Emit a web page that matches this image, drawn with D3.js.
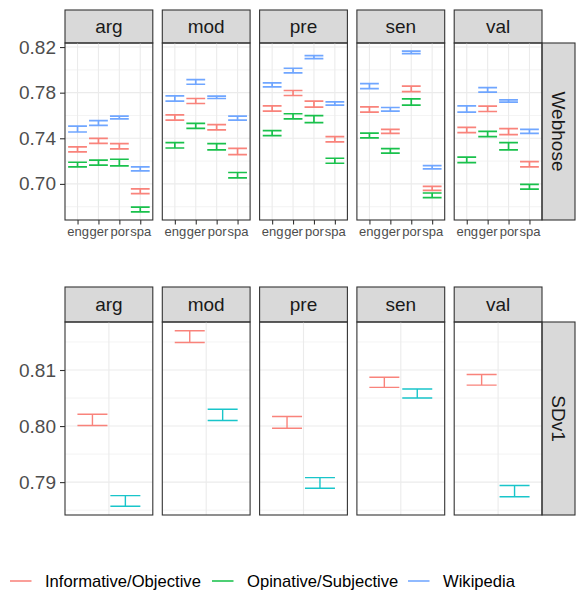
<!DOCTYPE html>
<html>
<head>
<meta charset="utf-8">
<script src="https://cdn.jsdelivr.net/npm/d3@7"></script>
<style>
  body { margin: 0; background: #ffffff; }
  text { font-family: "Liberation Sans", Arial, sans-serif; }
</style>
</head>
<body>
<script>
// facets and categories
var facets = ["arg", "mod", "pre", "sen", "val"];
var langs = ["eng", "ger", "por", "spa"];
var seriesNames = ["Informative/Objective", "Opinative/Subjective", "Wikipedia"];
var seriesColors = ["#F8766D", "#00BA38", "#619CFF"];

// Webhose: [low, high] per language, one row per facet
var infoObjective = [
  [[0.7280, 0.7324], [0.7356, 0.7400], [0.7307, 0.7353], [0.6914, 0.6957]],
  [[0.7560, 0.7606], [0.7705, 0.7749], [0.7473, 0.7519], [0.7257, 0.7312]],
  [[0.7638, 0.7685], [0.7775, 0.7819], [0.7673, 0.7726], [0.7368, 0.7414]],
  [[0.7630, 0.7676], [0.7443, 0.7478], [0.7810, 0.7857], [0.6943, 0.6978]],
  [[0.7449, 0.7496], [0.7635, 0.7682], [0.7432, 0.7484], [0.7149, 0.7196]]
];
var opinSubjective = [
  [[0.7149, 0.7190], [0.7164, 0.7208], [0.7158, 0.7216], [0.6754, 0.6797]],
  [[0.7315, 0.7362], [0.7487, 0.7531], [0.7298, 0.7353], [0.7053, 0.7100]],
  [[0.7423, 0.7467], [0.7571, 0.7615], [0.7537, 0.7598], [0.7181, 0.7225]],
  [[0.7403, 0.7446], [0.7269, 0.7309], [0.7691, 0.7746], [0.6879, 0.6920]],
  [[0.7187, 0.7234], [0.7414, 0.7461], [0.7298, 0.7362], [0.6955, 0.6995]]
];
var wikipedia = [
  [[0.7455, 0.7507], [0.7513, 0.7554], [0.7571, 0.7595], [0.7115, 0.7149]],
  [[0.7726, 0.7772], [0.7874, 0.7915], [0.7749, 0.7769], [0.7560, 0.7595]],
  [[0.7851, 0.7886], [0.7973, 0.8014], [0.8098, 0.8124], [0.7691, 0.7720]],
  [[0.7836, 0.7880], [0.7638, 0.7670], [0.8142, 0.8165], [0.7132, 0.7161]],
  [[0.7630, 0.7685], [0.7804, 0.7845], [0.7717, 0.7737], [0.7443, 0.7478]]
];

// SDv1: two groups, one [low, high] per facet
var sdGroups = ["first", "second"];
var sdColors = ["#F8766D", "#00BFC4"];
var sdv1First = [[0.8001, 0.8021], [0.8149, 0.8170], [0.7996, 0.8017], [0.8069, 0.8087], [0.8073, 0.8092]];
var sdv1Second = [[0.7857, 0.7876], [0.8010, 0.8030], [0.7889, 0.7908], [0.8050, 0.8066], [0.7874, 0.7894]];

var webhoseTicks = [0.70, 0.74, 0.78, 0.82];
var webhoseMinor = [0.68, 0.72, 0.76, 0.80];
var sdv1Ticks = [0.79, 0.80, 0.81];
var sdv1Minor = [0.785, 0.795, 0.805, 0.815];

var width = 579, height = 596;
var svg = d3.select("body").append("svg")
    .attr("width", width)
    .attr("height", height);

var panelX = d3.scaleBand().domain(facets).range([65, 542]).paddingInner(0.0976);
var bw = panelX.bandwidth();

function expandDomain(values) {
  var lo = d3.min(values), hi = d3.max(values), r = hi - lo;
  return [lo - 0.05 * r, hi + 0.05 * r];
}

function drawStripsAndGrid(g, y, top, bottom, ticks, minor, stripTop, rowLabel) {
  facets.forEach(function (f) {
    var x0 = panelX(f);
    var p = g.append("g").attr("transform", "translate(" + x0 + ",0)");
    p.append("rect").attr("x", 0).attr("y", top).attr("width", bw).attr("height", bottom - top)
        .attr("fill", "#ffffff");
    p.selectAll("line.minor").data(minor.filter(function (v) { return y(v) > top && y(v) < bottom; }))
        .enter().append("line")
        .attr("x1", 0).attr("x2", bw)
        .attr("y1", y).attr("y2", y)
        .attr("stroke", "#EBEBEB").attr("stroke-width", 0.6);
    p.selectAll("line.major").data(ticks)
        .enter().append("line")
        .attr("x1", 0).attr("x2", bw)
        .attr("y1", y).attr("y2", y)
        .attr("stroke", "#EBEBEB").attr("stroke-width", 1.1);
    // strip
    p.append("rect").attr("x", 0).attr("y", stripTop).attr("width", bw).attr("height", top - stripTop)
        .attr("fill", "#D9D9D9").attr("stroke", "#333333").attr("stroke-width", 1.1);
    p.append("text").text(f)
        .attr("x", bw / 2).attr("y", (stripTop + top) / 2)
        .attr("text-anchor", "middle").attr("dominant-baseline", "central")
        .style("font-size", "19px").attr("fill", "#1A1A1A");
  });
  // right strip
  g.append("rect").attr("x", 542).attr("y", top).attr("width", 33).attr("height", bottom - top)
      .attr("fill", "#D9D9D9").attr("stroke", "#333333").attr("stroke-width", 1.1);
  g.append("text").text(rowLabel)
      .attr("transform", "translate(558.5," + ((top + bottom) / 2) + ") rotate(90)")
      .attr("text-anchor", "middle").attr("dominant-baseline", "central")
      .style("font-size", "19px").attr("fill", "#1A1A1A");
  // y axis
  var ax = g.append("g").attr("transform", "translate(65,0)")
      .call(d3.axisLeft(y).tickValues(ticks).tickFormat(d3.format(".2f")).tickSize(5).tickPadding(4));
  ax.select(".domain").remove();
  ax.selectAll(".tick line").attr("stroke", "#333333").attr("stroke-width", 1.1);
  ax.selectAll(".tick text").attr("fill", "#4D4D4D").style("font-size", "19px")
      .style("font-family", "'Liberation Sans', Arial, sans-serif");
}

function drawBorders(g, top, bottom) {
  facets.forEach(function (f) {
    g.append("rect").attr("x", panelX(f)).attr("y", top).attr("width", bw).attr("height", bottom - top)
        .attr("fill", "none").attr("stroke", "#333333").attr("stroke-width", 1.1);
  });
}

function errorbar(p, cx, half, lo, hi, color, sw) {
  p.append("path")
      .attr("d", "M" + (cx - half) + "," + hi + "H" + (cx + half) +
                 "M" + cx + "," + hi + "V" + lo +
                 "M" + (cx - half) + "," + lo + "H" + (cx + half))
      .attr("fill", "none").attr("stroke", color).attr("stroke-width", sw)
      .attr("stroke-opacity", 0.9);
}

// ---------- Webhose row ----------
var topTop = 43, topBottom = 220;
var allTop = [];
[infoObjective, opinSubjective, wikipedia].forEach(function (s) {
  s.forEach(function (row) { row.forEach(function (d) { allTop.push(d[0], d[1]); }); });
});
var yTop = d3.scaleLinear().domain(expandDomain(allTop)).range([topBottom, topTop]);
var xTop = d3.scalePoint().domain(langs).range([0, bw]).padding(0.6);

var gTop = svg.append("g");
drawStripsAndGrid(gTop, yTop, topTop, topBottom, webhoseTicks, webhoseMinor, 10, "Webhose");

facets.forEach(function (f, fi) {
  var p = gTop.append("g").attr("transform", "translate(" + panelX(f) + ",0)");
  langs.forEach(function (l) {
    p.append("line").attr("x1", xTop(l)).attr("x2", xTop(l))
        .attr("y1", topTop).attr("y2", topBottom)
        .attr("stroke", "#EBEBEB").attr("stroke-width", 1.1);
  });
  [infoObjective, opinSubjective, wikipedia].forEach(function (s, si) {
    s[fi].forEach(function (d, li) {
      errorbar(p, xTop(langs[li]), xTop.step() * 0.45, yTop(d[0]), yTop(d[1]), seriesColors[si], 1.7);
    });
  });
  var xa = p.append("g").attr("transform", "translate(0," + topBottom + ")")
      .call(d3.axisBottom(xTop).tickSize(4.5).tickPadding(2));
  xa.select(".domain").remove();
  xa.selectAll(".tick line").attr("stroke", "#333333").attr("stroke-width", 1.1);
  xa.selectAll(".tick text").attr("fill", "#4D4D4D").style("font-size", "13px")
      .style("font-family", "'Liberation Sans', Arial, sans-serif");
});
drawBorders(gTop, topTop, topBottom);

// ---------- SDv1 row ----------
var botTop = 322, botBottom = 515;
var allBot = [];
[sdv1First, sdv1Second].forEach(function (s) { s.forEach(function (d) { allBot.push(d[0], d[1]); }); });
var yBot = d3.scaleLinear().domain(expandDomain(allBot)).range([botBottom, botTop]);
var xBot = d3.scalePoint().domain(["all"]).range([0, bw]).padding(0.6);
var unit = bw / 1.2;
var dodge = d3.scaleBand().domain(sdGroups).range([-0.45 * unit, 0.45 * unit]);

var gBot = svg.append("g");
drawStripsAndGrid(gBot, yBot, botTop, botBottom, sdv1Ticks, sdv1Minor, 287, "SDv1");

facets.forEach(function (f, fi) {
  var p = gBot.append("g").attr("transform", "translate(" + panelX(f) + ",0)");
  p.append("line").attr("x1", xBot("all")).attr("x2", xBot("all"))
      .attr("y1", botTop).attr("y2", botBottom)
      .attr("stroke", "#EBEBEB").attr("stroke-width", 1.1);
  [sdv1First, sdv1Second].forEach(function (s, si) {
    var d = s[fi];
    var cx = xBot("all") + dodge(sdGroups[si]) + dodge.bandwidth() / 2;
    errorbar(p, cx, unit * 0.205, yBot(d[0]), yBot(d[1]), sdColors[si], 1.4);
  });
});
drawBorders(gBot, botTop, botBottom);

// ---------- legend ----------
var legendX = [10, 212, 408];
var legend = svg.append("g").attr("transform", "translate(0,581)");
seriesNames.forEach(function (name, i) {
  legend.append("line")
      .attr("x1", legendX[i]).attr("x2", legendX[i] + 21.5)
      .attr("y1", 0).attr("y2", 0)
      .attr("stroke", seriesColors[i]).attr("stroke-width", 1.4);
  legend.append("text").text(name)
      .attr("x", legendX[i] + 35).attr("y", 0)
      .attr("dominant-baseline", "central")
      .style("font-size", "16.6px").attr("fill", "#000000");
});
</script>
</body>
</html>
